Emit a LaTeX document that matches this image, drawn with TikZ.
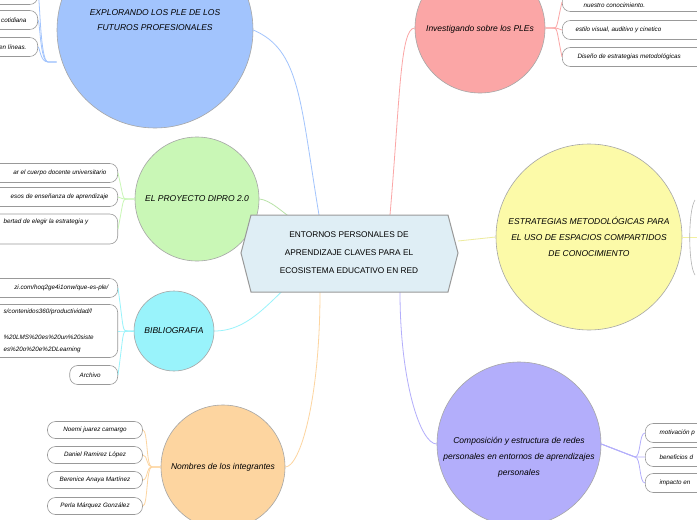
\documentclass[tikz,border=0pt]{standalone}
\usepackage{fontspec}
\setmainfont{Liberation Sans}
\usetikzlibrary{shapes.geometric}
\definecolor{cblue}{HTML}{A2C4FD}
\definecolor{cgreen}{HTML}{C9F7B6}
\definecolor{ccyan}{HTML}{99F3FB}
\definecolor{corange}{HTML}{FDD5A0}
\definecolor{cpink}{HTML}{FBA6A6}
\definecolor{cyellow}{HTML}{FCFAA8}
\definecolor{cpurple}{HTML}{B3AEFB}
\definecolor{chex}{HTML}{DFEEF5}
\tikzset{
 topic/.style={circle,draw=gray!70,line width=0.6pt,align=center,font=\itshape\fontsize{8.5}{16}\selectfont,inner sep=0pt},
 leaf/.style={draw=gray!80,rounded corners=8pt,line width=0.6pt,font=\itshape\fontsize{6.3}{9}\selectfont,inner sep=0pt,minimum height=19pt,align=left},
 ltxt/.style={font=\itshape\fontsize{6.3}{9}\selectfont},
 lnk/.style={line width=0.8pt},
}
\begin{document}
\begin{tikzpicture}[x=1pt,y=-1pt]
\useasboundingbox (0,0) rectangle (697,520);
\clip (0,0) rectangle (697,520);
\fill[white] (0,0) rectangle (697,520);
\coordinate (cc) at (349,253);
% topics
\node[topic,fill=cblue,minimum size=196pt] (t1) at (155,30) {};
\node[align=center,font=\itshape\fontsize{8.5}{15}\selectfont] (t1t) at (155,20) {EXPLORANDO LOS PLE DE LOS\\FUTUROS PROFESIONALES};
\node[topic,fill=cgreen,minimum size=124pt] (t2) at (197,199) {EL PROYECTO DIPRO 2.0};
\node[topic,fill=ccyan,minimum size=80pt] (t3) at (174,331) {BIBLIOGRAFIA};
\node[topic,fill=corange,minimum size=124pt] (t4) at (223,467) {Nombres de los integrantes};
\node[topic,fill=cpink,minimum size=130pt] (t5) at (480,28) {};
\node[font=\itshape\fontsize{8.5}{15}\selectfont] (t5t) at (480,29) {Investigando sobre los PLEs};
\node[topic,fill=cyellow,minimum size=186pt] (t6) at (589,237) {ESTRATEGIAS METODOLÓGICAS PARA\\EL USO DE ESPACIOS COMPARTIDOS\\DE CONOCIMIENTO};
\node[topic,fill=cpurple,minimum size=164pt] (t7) at (519,444) {};
\node[align=center,font=\itshape\fontsize{8.5}{16}\selectfont] (t7t) at (519,457) {Composición y estructura de redes\\personales en entornos de aprendizajes\\personales};
% connectors from center
\coordinate (a1) at (319,215);
\draw[lnk,cblue] (a1) .. controls (300,100) and (300,50) .. (t1.east);
\draw[lnk,cgreen!80!black!40!cgreen] (300,225) .. controls (280,210) and (270,200) .. (t2.east);
\draw[lnk,ccyan] (300,275) .. controls (270,300) and (250,331) .. (t3.east);
\draw[lnk,corange] (320,292) .. controls (320,400) and (300,467) .. (t4.east);
\draw[lnk,cpink] (390,215) .. controls (400,100) and (400,28) .. (t5.west);
\draw[lnk,cyellow!80!black!30!cyellow] (458,241) -- (t6.west);
\draw[lnk,cpurple] (400,292) .. controls (400,380) and (420,444) .. (t7.west);
% hexagon
\filldraw[draw=gray!80,line width=1pt,fill=chex] (241,253) -- (251,215) -- (448,215) -- (458,253) -- (448,292) -- (251,292) -- cycle;
\node[align=center,font=\fontsize{8.3}{18}\selectfont] (hxt) at (cc) {ENTORNOS PERSONALES DE\\APRENDIZAJE CLAVES PARA EL\\ECOSISTEMA EDUCATIVO EN RED};
% leaves left of t1
\foreach \y/\t [count=\i] in {-5/{},20/cotidiana,47/en líneas.}{
 \node[leaf,minimum width=160pt,anchor=east] (l1\i) at (38,\y) {};
 \node[anchor=east,ltxt] at (30,\y) {\t};
 \draw[cblue,lnk] (t1.west |- 0,62) -- (48,62) .. controls (40,62) and (40,\y) .. (l1\i.east);
}
% leaves t2
\node[leaf,minimum width=200pt,anchor=east] (l21) at (118,173) {};
\node[anchor=east,ltxt] at (110,173) {ar el cuerpo docente universitario};
\node[leaf,minimum width=200pt,anchor=east] (l22) at (118,197) {};
\node[anchor=east,ltxt] at (112,197) {esos de enseñanza de aprendizaje};
\node[leaf,minimum width=200pt,minimum height=30pt,anchor=east] (l23) at (118,229) {};
\node[anchor=west,ltxt] at (0,222) {bertad de elegir la estrategia y};
\foreach \i in {1,2,3}{\draw[cgreen,lnk] (t2.west) -- (128,199) .. controls (122,199) and (124,199) .. (l2\i.east);}
% leaves t3
\node[leaf,minimum width=200pt,anchor=east] (l31) at (118,288) {};
\node[anchor=east,ltxt] at (112,288) {zi.com/hoq2ge4i1onw/que-es-ple/};
\node[leaf,minimum width=200pt,minimum height=53pt,anchor=east] (l32) at (118,331) {};
\node[anchor=west,align=left,font=\itshape\fontsize{6.3}{12}\selectfont] at (0,331) {s/contenidos360/productividad/l\\[2pt]\\\%20LMS\%20es\%20un\%20siste\\es\%20o\%20e\%2DLearning};
\node[leaf,minimum width=48pt,anchor=east] (l33) at (118,375) {Archivo\hspace*{7pt}};
\foreach \i in {1,2,3}{\draw[ccyan,lnk] (t3.west) -- (128,331) .. controls (122,331) and (124,331) .. (l3\i.east);}
% leaves t4
\foreach \y/\t [count=\i] in {430/Noemi juarez camargo,455/Daniel Ramirez López,480/Berenice Anaya Martínez,506/Perla Márquez González}{
 \node[leaf,minimum width=95pt,minimum height=17pt] (l4\i) at (95,\y) {\t};
 \draw[corange,lnk] (t4.west) -- (152,467) .. controls (146,467) and (148,\y) .. (l4\i.east);
}
% leaves t5
\node[leaf,minimum width=160pt,anchor=west] (l51) at (562,2) {};
\node[anchor=west,ltxt] at (580,5) {nuestro conocimiento.};
\node[leaf,minimum width=160pt,anchor=west] (l52) at (562,30) {};
\node[anchor=west,ltxt] at (572,30) {estilo visual, auditivo y cinetico};
\node[leaf,minimum width=160pt,anchor=west] (l53) at (562,57) {};
\node[anchor=west,ltxt] at (574,57) {Diseño de estrategias metodológicas};
\foreach \i in {1,2,3}{\draw[cpink,lnk] (t5.east) -- (552,28) .. controls (558,28) and (556,28) .. (l5\i.west);}
% t6 right branch
\coordinate (r6) at (697,237);
\draw[cyellow!80!black!20!cyellow,lnk] (t6.east) -- (r6);
\draw[gray!60,line width=0.6pt] (695,200) .. controls (688,210) and (688,265) .. (695,275);
% leaves t7
\foreach \y/\t [count=\i] in {433/motivación p,457/beneficios d,483/impacto en}{
 \node[leaf,minimum width=100pt,anchor=west] (l7\i) at (645,\y) {};
 \node[anchor=west,ltxt] at (656,\y) {\t};
 \draw[cpurple,lnk] (t7.east) -- (635,457) .. controls (641,457) and (639,\y) .. (l7\i.west);
}
\end{tikzpicture}
\end{document}
